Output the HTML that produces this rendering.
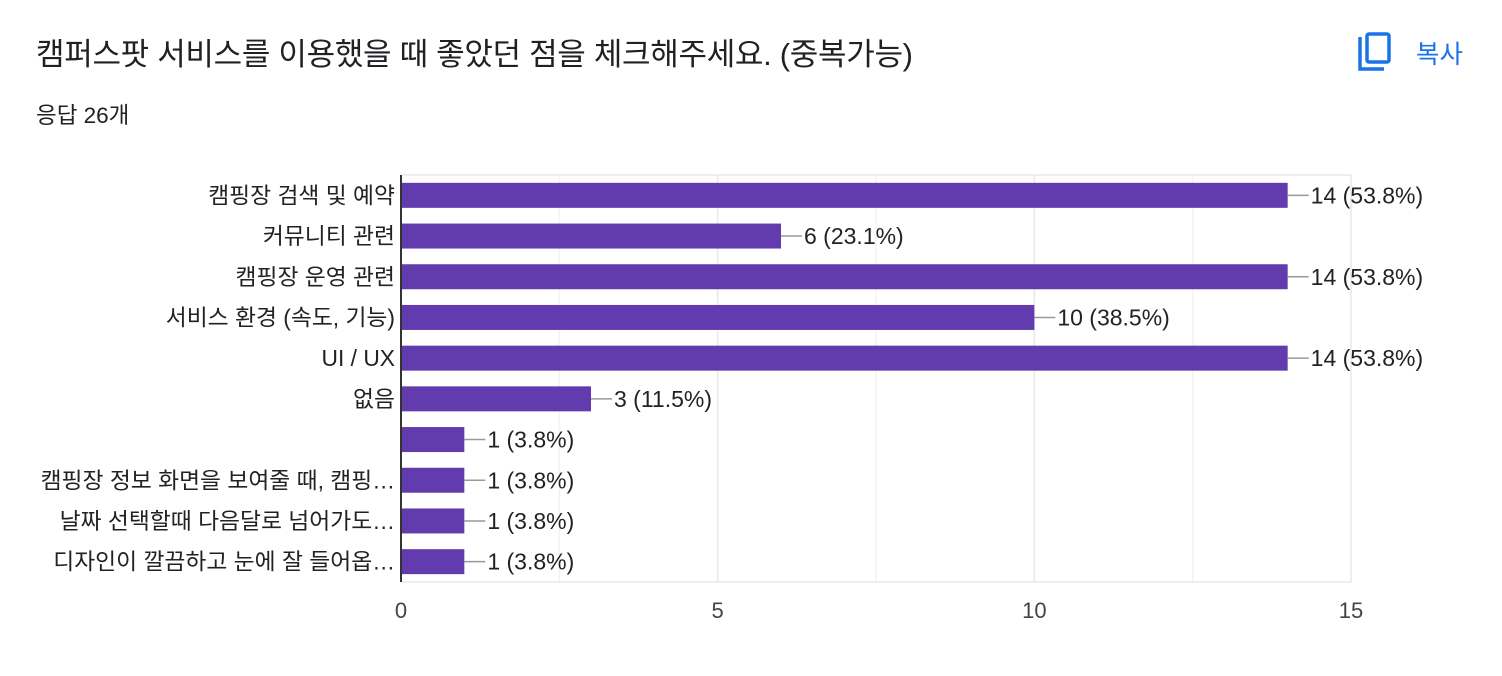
<!DOCTYPE html>
<html><head><meta charset="utf-8"><style>
body{margin:0;width:1502px;height:676px;background:#fff;font-family:"Liberation Sans","Noto Sans CJK KR",sans-serif;overflow:hidden;position:relative}
#title{position:absolute;left:36px;top:37px;font-size:31px;line-height:36px;color:#202124;margin:0;font-weight:normal;letter-spacing:-0.3px}
#resp{position:absolute;left:36px;top:98px;font-size:22.5px;color:#202124}
#copy{position:absolute;left:1358px;top:32px;display:flex;align-items:center;color:#1a73e8;font-size:25.5px;cursor:pointer}
svg text{font-family:"Liberation Sans","Noto Sans CJK KR",sans-serif}
</style></head><body>
<h1 id="title">캠퍼스팟 서비스를 이용했을 때 좋았던 점을 체크해주세요. (중복가능)</h1>
<div id="resp">응답 26개</div>
<div id="copy">
<svg width="34" height="40" viewBox="0 0 34 40"><path d="M2 5 V37 H26" fill="none" stroke="#1a73e8" stroke-width="3.5"/><rect x="9" y="2" width="22" height="28" rx="2" fill="none" stroke="#1a73e8" stroke-width="3.5"/></svg>
<span style="margin-left:24px">복사</span></div>
<svg id="chart" width="1502" height="676" style="position:absolute;left:0;top:0"></svg>
<script>
const categories=["캠핑장 검색 및 예약","커뮤니티 관련","캠핑장 운영 관련","서비스 환경 (속도, 기능)","UI / UX","없음","","캠핑장 정보 화면을 보여줄 때, 캠핑…","날짜 선택할때 다음달로 넘어가도…","디자인이 깔끔하고 눈에 잘 들어옵…"];
const values=[14,6,14,10,14,3,1,1,1,1];
const percents=["53.8%","23.1%","53.8%","38.5%","53.8%","11.5%","3.8%","3.8%","3.8%","3.8%"];
const ticks=[0,5,10,15];
const minorTicks=[2.5,7.5,12.5];
const NS="http://www.w3.org/2000/svg";
const svg=document.getElementById('chart');
const x0=401,x1=1351,yTop=175,yBot=582,xMax=15;
const xs=v=>x0+(x1-x0)*v/xMax;
const step=(yBot-yTop)/categories.length;
const yc=i=>yTop+step*(i+0.5);
function mk(t,a){const e=document.createElementNS(NS,t);for(const k in a)e.setAttribute(k,a[k]);svg.appendChild(e);return e;}
minorTicks.forEach(t=>{const l=mk('line',{x1:xs(t),x2:xs(t),y1:yTop,y2:yBot,stroke:'#f3f3f3','stroke-width':1.5});

});
ticks.forEach(t=>{const l=mk('line',{x1:xs(t),x2:xs(t),y1:yTop,y2:yBot,stroke:'#e8e8e8','stroke-width':1.5});


const tx=mk('text',{x:xs(t),y:618,'text-anchor':'middle','font-size':22,fill:'#444'});tx.textContent=t;

});
const hl=mk('line',{x1:x0,x2:x1,y1:yTop,y2:yTop,stroke:'#e8e8e8','stroke-width':1.5});


const bl=mk('line',{x1:x0,x2:x1,y1:yBot,y2:yBot,stroke:'#e8e8e8','stroke-width':1.5});


categories.forEach((c,i)=>{
const y=yc(i),h=25,xe=xs(values[i]);
const r=mk('rect',{x:x0,y:y-h/2,width:xe-x0,height:h,fill:'#623cae'});


const cl=mk('line',{x1:xe,x2:xe+21,y1:y,y2:y,stroke:'#999','stroke-width':1.5});


const vt=mk('text',{x:xe+23,y:y+8,'font-size':23,fill:'#222'});vt.textContent=values[i]+' ('+percents[i]+')';


const ct=mk('text',{x:395,y:y+8,'text-anchor':'end','font-size':22.8,fill:'#222'});ct.textContent=c;


});
const ax=mk('line',{x1:x0,x2:x0,y1:yTop,y2:yBot,stroke:'#333','stroke-width':2});


</script>
</body></html>
